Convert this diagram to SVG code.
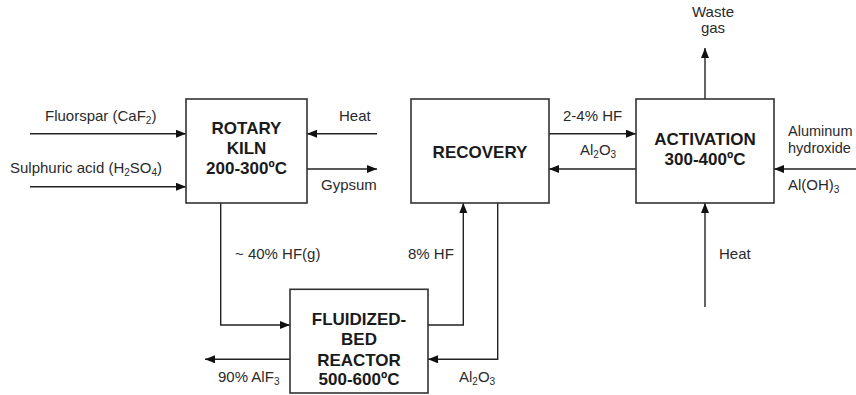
<svg xmlns="http://www.w3.org/2000/svg" width="856" height="395" viewBox="0 0 856 395">
<style>
.box{fill:#fff;stroke:#333;stroke-width:1.6}
.t{font-family:"Liberation Sans",Arial,sans-serif;font-size:15px;fill:#2a2a2a}
.b{font-family:"Liberation Sans",Arial,sans-serif;font-size:17px;font-weight:bold;fill:#1a1a1a;text-anchor:middle}
.ln{fill:none;stroke:#222;stroke-width:1.4;marker-end:url(#ah)}
.s{font-size:10px}
</style>
<defs>
<marker id="ah" markerUnits="userSpaceOnUse" markerWidth="12" markerHeight="10" refX="10" refY="4" orient="auto">
<path d="M0,0 L10,4 L0,8 Z" fill="#111"/>
</marker>
</defs>
<rect width="856" height="395" fill="#fff"/>
<g id="connectors">
<path class="ln" d="M30,133.7 H186"/>
<path class="ln" d="M30,186.7 H186"/>
<path class="ln" d="M377,133.7 H307"/>
<path class="ln" d="M307,169 H377"/>
<path class="ln" d="M549,133.7 H636"/>
<path class="ln" d="M636,169 H549"/>
<path class="ln" d="M856,169 H774"/>
<path class="ln" d="M705,99 V48"/>
<path class="ln" d="M705,307 V203"/>
<path class="ln" d="M220.7,203 V325 H290"/>
<path class="ln" d="M428,325 H463.3 V203"/>
<path class="ln" d="M497.7,203 V359.3 H428"/>
<path class="ln" d="M290,359.3 H205"/>
</g>
<g id="labels">
<text class="t" x="45" y="120.5">Fluorspar (CaF<tspan class="s" dy="3">2</tspan><tspan dy="-3">)</tspan></text>
<text class="t" x="10" y="173">Sulphuric acid (H<tspan class="s" dy="3">2</tspan><tspan dy="-3">SO</tspan><tspan class="s" dy="3">4</tspan><tspan dy="-3">)</tspan></text>
<text class="t" x="339" y="120.5">Heat</text>
<text class="t" x="321" y="189.5">Gypsum</text>
<text class="t" x="563" y="120.5">2-4% HF</text>
<text class="t" x="580" y="155">Al<tspan class="s" dy="3">2</tspan><tspan dy="-3">O</tspan><tspan class="s" dy="3">3</tspan></text>
<text class="t" x="788" y="136" style="font-size:14.5px">Aluminum</text>
<text class="t" x="788" y="153" style="font-size:14.5px">hydroxide</text>
<text class="t" x="788" y="190">Al(OH)<tspan class="s" dy="3">3</tspan></text>
<text class="t" x="713" y="17" text-anchor="middle">Waste</text>
<text class="t" x="713" y="33" text-anchor="middle">gas</text>
<text class="t" x="719" y="258.5">Heat</text>
<text class="t" x="235" y="259">~ 40% HF(g)</text>
<text class="t" x="408" y="259">8% HF</text>
<text class="t" x="459" y="381.5">Al<tspan class="s" dy="3">2</tspan><tspan dy="-3">O</tspan><tspan class="s" dy="3">3</tspan></text>
<text class="t" x="218" y="381.5">90% AlF<tspan class="s" dy="3">3</tspan></text>
</g>
<g id="rotary-kiln">
<rect class="box" x="186" y="99" width="121" height="104"/>
<text class="b" x="246.5" y="134">ROTARY</text>
<text class="b" x="246.5" y="154">KILN</text>
<text class="b" x="246.5" y="174">200-300ºC</text>
</g>
<g id="recovery">
<rect class="box" x="411" y="99" width="138" height="104"/>
<text class="b" x="480" y="158">RECOVERY</text>
</g>
<g id="activation">
<rect class="box" x="636" y="99" width="138" height="104"/>
<text class="b" x="705" y="145">ACTIVATION</text>
<text class="b" x="705" y="165">300-400ºC</text>
</g>
<g id="fluidized-bed-reactor">
<rect class="box" x="290" y="289.3" width="138" height="103.7"/>
<text class="b" x="359" y="325">FLUIDIZED-</text>
<text class="b" x="359" y="345">BED</text>
<text class="b" x="359" y="365.5">REACTOR</text>
<text class="b" x="359" y="385">500-600ºC</text>
</g>
</svg>
